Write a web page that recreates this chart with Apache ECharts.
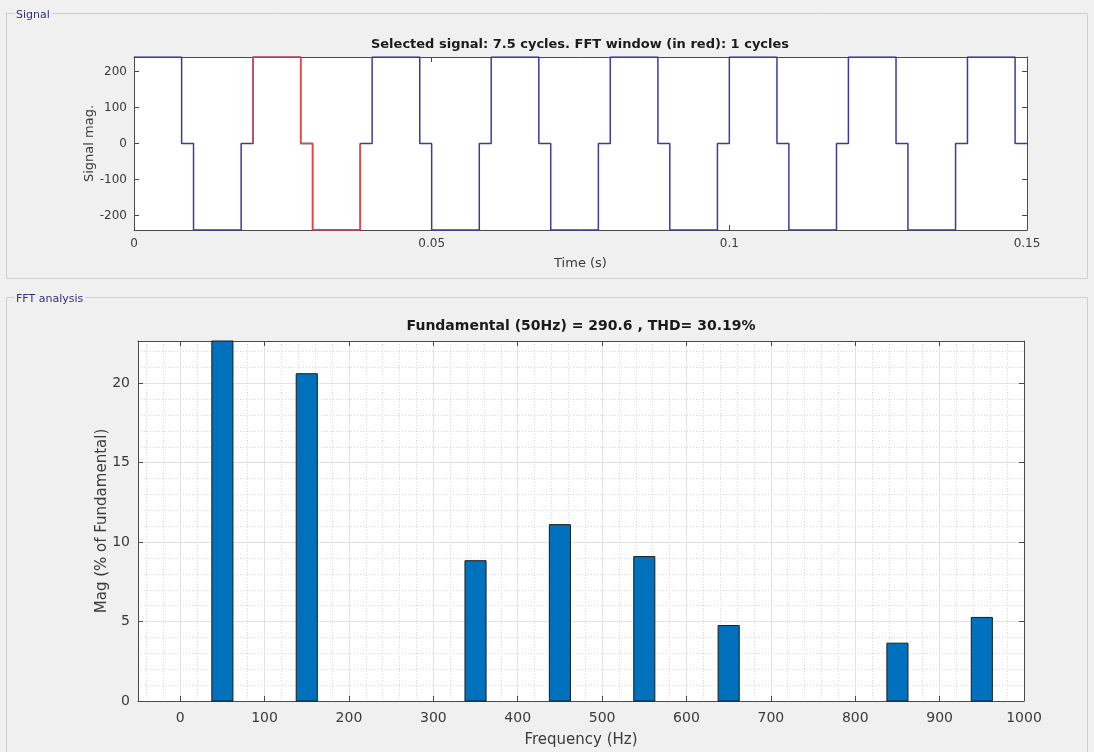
<!DOCTYPE html>
<html>
<head>
<meta charset="utf-8">
<script src="https://cdn.jsdelivr.net/npm/echarts@6/dist/echarts.min.js"></script>
<style>
html,body{margin:0;padding:0;background:#f0f0f0;}
#c{width:1094px;height:752px;}
</style>
</head>
<body>
<div id="c"></div>
<script>
// ---- Signal (level changes, held until next time) ----
const sigTime = [0, 0.008, 0.010, 0.018, 0.020, 0.028, 0.030, 0.038, 0.040, 0.048, 0.050, 0.058,
  0.060, 0.068, 0.070, 0.078, 0.080, 0.088, 0.090, 0.098, 0.100, 0.108, 0.110, 0.118,
  0.120, 0.128, 0.130, 0.138, 0.140, 0.148, 0.150];
const sigLevel = [240, 0, -240, 0, 240, 0, -240, 0, 240, 0, -240, 0,
  240, 0, -240, 0, 240, 0, -240, 0, 240, 0, -240, 0,
  240, 0, -240, 0, 240, 0, 0];
// ---- FFT window (red) ----
const winTime = [0.020, 0.020, 0.028, 0.030, 0.038];
const winLevel = [0, 240, 0, -240, 0];
// ---- Harmonic spectrum (% of fundamental) ----
const harmFreq = [50, 150, 350, 450, 550, 650, 850, 950];
const harmMag = [100, 20.6, 8.83, 11.1, 9.09, 4.75, 3.64, 5.26];
const fftYMax = 22.66;
// ---- Texts ----
const signalTitle = 'Selected signal: 7.5 cycles. FFT window (in red): 1 cycles';
const fftTitle = 'Fundamental (50Hz) = 290.6 , THD= 30.19%';
const signalXName = 'Time (s)';
const signalYName = 'Signal mag.';
const fftXName = 'Frequency (Hz)';
const fftYName = 'Mag (% of Fundamental)';
const panelNames = ['Signal', 'FFT analysis'];

const FONT = 'DejaVu Sans';
const AX = '#4a4a4a';
const TXT = '#3a3a3a';
const BAR_HALF = 12.5;

function frame(extra) {
  return Object.assign({
    type: 'value',
    axisLine: { show: true, onZero: false, lineStyle: { color: AX, width: 1 } },
    axisTick: { show: true, inside: true, length: 5, lineStyle: { color: AX } },
    axisLabel: { show: false },
    splitLine: { show: false },
    nameMoveOverlap: false,
    z: 2
  }, extra);
}
const plain = v => String(v);

const chart = echarts.init(document.getElementById('c'), null, { renderer: 'canvas' });

const option = {
  animation: false,
  backgroundColor: '#f0f0f0',
  textStyle: { fontFamily: FONT },
  grid: [
    { left: 134, top: 57, right: 67, height: 173, show: true, backgroundColor: '#ffffff', borderWidth: 0, outerBoundsMode: 'none', containLabel: false },
    { left: 138, top: 341, right: 70, height: 360, show: true, backgroundColor: '#ffffff', borderWidth: 0, outerBoundsMode: 'none', containLabel: false }
  ],
  xAxis: [
    frame({ gridIndex: 0, position: 'bottom', min: 0, max: 0.15, interval: 0.05,
      axisLabel: { show: true, color: TXT, fontFamily: FONT, fontSize: 12, margin: 8, formatter: plain },
      name: signalXName, nameLocation: 'middle', nameGap: 27,
      nameTextStyle: { color: TXT, fontFamily: FONT, fontSize: 13 } }),
    frame({ gridIndex: 0, position: 'top', min: 0, max: 0.15, interval: 0.05 }),
    frame({ gridIndex: 1, position: 'bottom', min: -50, max: 1000, minInterval: 100, maxInterval: 100,
      axisLabel: { show: true, color: TXT, fontFamily: FONT, fontSize: 14, margin: 10, showMinLabel: false, formatter: plain },
      splitLine: { show: true, lineStyle: { color: '#e2e2e2', width: 1 } },
      name: fftXName, nameLocation: 'middle', nameGap: 32,
      nameTextStyle: { color: TXT, fontFamily: FONT, fontSize: 15 } }),
    frame({ gridIndex: 1, position: 'top', min: -50, max: 1000, minInterval: 100, maxInterval: 100 }),
    { type: 'value', gridIndex: 1, position: 'top', min: -50, max: 1000, minInterval: 20, maxInterval: 20,
      axisLine: { show: false }, axisTick: { show: false }, axisLabel: { show: false },
      splitLine: { show: true, lineStyle: { color: '#d6d6d6', width: 1, type: [1, 2] } }, z: 0 }
  ],
  yAxis: [
    frame({ gridIndex: 0, position: 'left', min: -240, max: 240, minInterval: 100, maxInterval: 100,
      axisLabel: { show: true, color: TXT, fontFamily: FONT, fontSize: 12, margin: 7, showMinLabel: false, showMaxLabel: false, formatter: plain },
      name: signalYName, nameLocation: 'middle', nameGap: 38, nameRotate: 90,
      nameTextStyle: { color: TXT, fontFamily: FONT, fontSize: 13 } }),
    frame({ gridIndex: 0, position: 'right', min: -240, max: 240, minInterval: 100, maxInterval: 100 }),
    frame({ gridIndex: 1, position: 'left', min: 0, max: fftYMax, interval: 5,
      axisLabel: { show: true, color: TXT, fontFamily: FONT, fontSize: 14, margin: 8, showMaxLabel: false, formatter: plain },
      splitLine: { show: true, lineStyle: { color: '#e2e2e2', width: 1 } },
      name: fftYName, nameLocation: 'middle', nameGap: 28, nameRotate: 90,
      nameTextStyle: { color: TXT, fontFamily: FONT, fontSize: 15 } }),
    frame({ gridIndex: 1, position: 'right', min: 0, max: fftYMax, interval: 5 }),
    { type: 'value', gridIndex: 1, position: 'right', min: 0, max: fftYMax, interval: 1,
      axisLine: { show: false }, axisTick: { show: false }, axisLabel: { show: false },
      splitLine: { show: true, lineStyle: { color: '#d6d6d6', width: 1, type: [1, 2] } }, z: 0 }
  ],
  series: [
    {
      type: 'line', xAxisIndex: 0, yAxisIndex: 0, step: 'end', showSymbol: false, symbol: 'none',
      data: sigTime.map((t, i) => [t, sigLevel[i]]),
      lineStyle: { color: '#3b3b9c', width: 1.5 }, z: 3
    },
    {
      type: 'line', xAxisIndex: 0, yAxisIndex: 0, step: 'end', showSymbol: false, symbol: 'none',
      data: winTime.map((t, i) => [t, winLevel[i]]),
      lineStyle: { color: '#e04848', width: 1.5 }, z: 4
    },
    {
      type: 'custom', xAxisIndex: 2, yAxisIndex: 2, z: 3,
      encode: { x: 0, y: 1 },
      data: harmFreq.map((f, i) => [f, harmMag[i]]),
      renderItem: function (params, api) {
        const f = api.value(0), m = api.value(1);
        const p0 = api.coord([f - BAR_HALF, m]);
        const p1 = api.coord([f + BAR_HALF, 0]);
        const cs = params.coordSys;
        const r = echarts.graphic.clipRectByRect(
          { x: p0[0], y: p0[1], width: p1[0] - p0[0], height: p1[1] - p0[1] },
          { x: cs.x, y: cs.y, width: cs.width, height: cs.height });
        return r && { type: 'rect', shape: r, style: { fill: '#0072BD', stroke: '#1a1a1a', lineWidth: 1 } };
      }
    }
  ],
  graphic: [
    { type: 'rect', shape: { x: 6.5, y: 13.5, width: 1081, height: 265 }, style: { fill: 'none', stroke: '#cdcdcd', lineWidth: 1 }, z: -10 },
    { type: 'rect', shape: { x: 6.5, y: 297.5, width: 1081, height: 470 }, style: { fill: 'none', stroke: '#cdcdcd', lineWidth: 1 }, z: -10 },
    { type: 'text', x: 14, y: 15, z: 10, style: { text: panelNames[0], font: '11px "DejaVu Sans"', fill: '#30307f', verticalAlign: 'middle', backgroundColor: '#f0f0f0', padding: [0, 2] } },
    { type: 'text', x: 14, y: 299, z: 10, style: { text: panelNames[1], font: '11px "DejaVu Sans"', fill: '#30307f', verticalAlign: 'middle', backgroundColor: '#f0f0f0', padding: [0, 2] } },
    { type: 'text', x: 580, y: 45, z: 10, style: { text: signalTitle, font: 'bold 13px "DejaVu Sans"', fill: '#1a1a1a', align: 'center', verticalAlign: 'middle' } },
    { type: 'text', x: 581, y: 326, z: 10, style: { text: fftTitle, font: 'bold 14px "DejaVu Sans"', fill: '#1a1a1a', align: 'center', verticalAlign: 'middle' } }
  ]
};
chart.setOption(option);
</script>
</body>
</html>
